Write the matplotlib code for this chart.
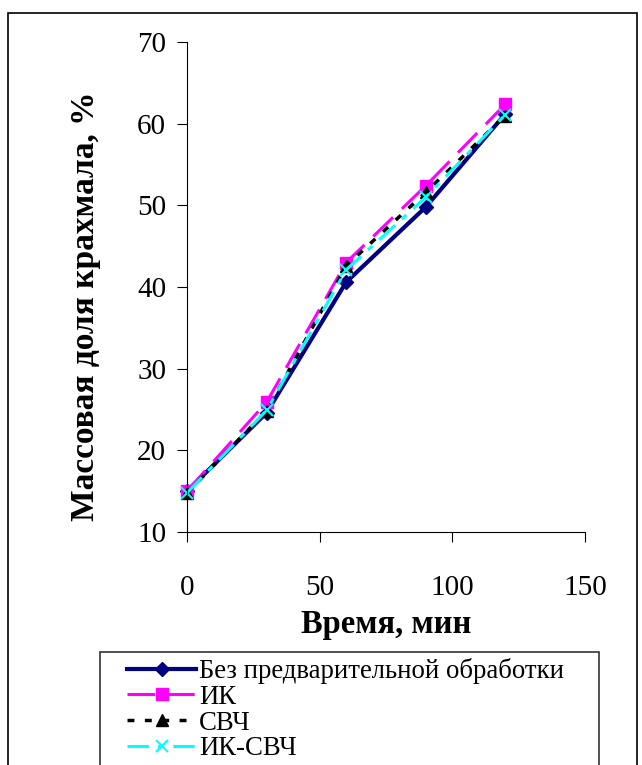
import matplotlib
matplotlib.use("Agg")
from matplotlib import pyplot as plt
from matplotlib.patches import Rectangle
from matplotlib.legend_handler import HandlerLine2D

plt.rcParams["font.family"] = ["Liberation Serif", "DejaVu Serif"]

# Данные
vremya = [0, 30, 60, 90, 120]
bez_obrabotki = [15.0, 24.6, 40.6, 49.8, 61.2]
ik = [15.0, 25.9, 43.0, 52.4, 62.4]
svch = [14.8, 24.8, 42.6, 51.6, 61.0]
ik_svch = [14.8, 24.9, 42.1, 51.0, 61.1]

nazvaniya = ["Без предварительной обработки", "ИК", "СВЧ", "ИК-СВЧ"]

fig = plt.figure(figsize=(6.42, 7.65), dpi=100)

# Рамка вокруг всей диаграммы
fig.patches.append(Rectangle((8 / 642, -0.01), 629 / 642, 1 - 13 / 765 + 0.01,
                             transform=fig.transFigure, fill=False,
                             edgecolor="black", linewidth=1.2))

ax = fig.add_axes([187 / 642, 1 - 532 / 765, 398 / 642, 490 / 765])

ax.plot(vremya, bez_obrabotki, color="#000080", linewidth=3, marker="D",
        markersize=7, label=nazvaniya[0])
ax.plot(vremya, ik, color="#FF00FF", linewidth=2.2, dashes=(9, 4), marker="s",
        markersize=8, label=nazvaniya[1])
ax.plot(vremya, svch, color="black", linewidth=2.5, dashes=(2, 3), marker="^",
        markersize=8, label=nazvaniya[2])
ax.plot(vremya, ik_svch, color="#00FFFF", linewidth=2.2, dashes=(7, 3, 2, 3),
        marker="x", markersize=9, markeredgewidth=1.5, label=nazvaniya[3])

ax.set_xlim(0, 150)
ax.set_ylim(10, 70)
ax.set_xticks([0, 50, 100, 150])
ax.set_yticks(range(10, 71, 10))

ax.spines["top"].set_visible(False)
ax.spines["right"].set_visible(False)
ax.tick_params(direction="out", length=7, labelsize=21, pad=8)
ax.tick_params(axis="x", pad=24)
ax.set_xlabel("Время, мин", fontsize=23.5, fontweight="bold", labelpad=6)
ax.set_ylabel("Массовая доля крахмала, %", fontsize=24, fontweight="bold",
              va="center")
ax.yaxis.set_label_coords((86 - 187) / 398, (532 - 306) / 490)
ax.margins(0)
for line in ax.get_lines():
    line.set_clip_on(False)

leg = fig.legend(loc="upper left",
                 bbox_to_anchor=(100 / 642, 0, 499 / 642, 1 - 652 / 765),
                 mode="expand", fontsize=19.3, frameon=True, fancybox=False,
                 edgecolor="black", handlelength=3.37, handletextpad=0.1,
                 labelspacing=0.03, borderpad=0.22, borderaxespad=0,
                 handler_map={plt.Line2D: HandlerLine2D(xpad=0.79)})
leg.get_frame().set_linewidth(1.2)

fig.savefig("out.png", dpi=100)
